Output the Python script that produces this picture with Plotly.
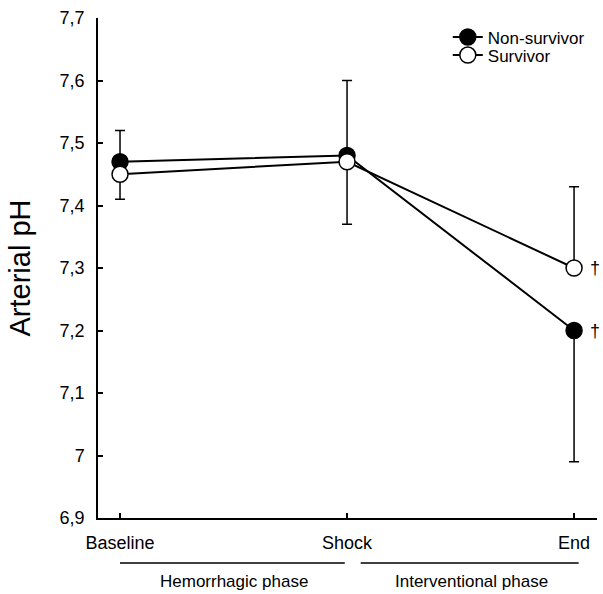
import plotly.graph_objects as go

categories = ["Baseline", "Shock", "End"]
nonsurvivor = [7.47, 7.48, 7.20]
survivor = [7.45, 7.47, 7.30]
nonsurv_err_plus = [0.05, 0.12, 0.0]
nonsurv_err_minus = [0.0, 0.0, 0.21]
surv_err_plus = [0.0, 0.0, 0.13]
surv_err_minus = [0.04, 0.10, 0.0]
ytick_vals = [6.9, 7.0, 7.1, 7.2, 7.3, 7.4, 7.5, 7.6, 7.7]
ytick_text = ["6,9", "7", "7,1", "7,2", "7,3", "7,4", "7,5", "7,6", "7,7"]
phase_labels = ["Hemorrhagic phase", "Interventional phase"]
dagger_points = ["End", "End"]
dagger_values = [7.30, 7.20]

FONT = "Liberation Sans, Arial, Helvetica, sans-serif"

fig = go.Figure()

# error bars (behind markers)
fig.add_trace(go.Scatter(
    x=categories, y=nonsurvivor, mode="markers",
    marker=dict(size=1, opacity=0),
    error_y=dict(type="data", symmetric=False, array=nonsurv_err_plus,
                 arrayminus=nonsurv_err_minus, color="black", thickness=1.5, width=5),
    showlegend=False, hoverinfo="skip"))
fig.add_trace(go.Scatter(
    x=categories, y=survivor, mode="markers",
    marker=dict(size=1, opacity=0),
    error_y=dict(type="data", symmetric=False, array=surv_err_plus,
                 arrayminus=surv_err_minus, color="black", thickness=1.5, width=5),
    showlegend=False, hoverinfo="skip"))

fig.add_trace(go.Scatter(
    x=categories, y=nonsurvivor, mode="lines+markers", name="Non-survivor",
    line=dict(color="black", width=2), legend="legend",
    marker=dict(size=16, color="black", line=dict(color="black", width=1.5))))
fig.add_trace(go.Scatter(
    x=categories, y=survivor, mode="lines+markers", name="Survivor",
    line=dict(color="black", width=2), legend="legend2",
    marker=dict(size=16, color="white", line=dict(color="black", width=1.5))))

for xc, yv in zip(dagger_points, dagger_values):
    fig.add_annotation(x=xc, y=yv, xref="x", yref="y", text="†", showarrow=False,
                       xshift=21, font=dict(family=FONT, size=18, color="#000000"))

# phase lines and labels
fig.add_shape(type="line", xref="x", yref="paper", x0=0.0, x1=0.99, y0=-0.09, y1=-0.09,
              line=dict(color="black", width=1.5))
fig.add_shape(type="line", xref="x", yref="paper", x0=1.06, x1=2.02, y0=-0.09, y1=-0.09,
              line=dict(color="black", width=1.5))
fig.add_annotation(x=0.5, y=-0.15, xref="x", yref="paper", text=phase_labels[0],
                   showarrow=False, font=dict(family=FONT, size=17, color="black"))
fig.add_annotation(x=1.55, y=-0.15, xref="x", yref="paper", text=phase_labels[1],
                   showarrow=False, font=dict(family=FONT, size=17, color="black"))

leg_common = dict(xanchor="left", yanchor="middle",
                  font=dict(family=FONT, size=17, color="black"),
                  bgcolor="rgba(0,0,0,0)", borderwidth=0)

fig.update_layout(
    width=603, height=594,
    margin=dict(l=98, r=6, t=18, b=76),
    plot_bgcolor="white", paper_bgcolor="white",
    font=dict(family=FONT, color="black", size=18),
    showlegend=True,
    legend=dict(x=0.701, y=0.961, **leg_common),
    legend2=dict(x=0.701, y=0.925, **leg_common),
    xaxis=dict(type="category", range=[-0.097, 2.101], showline=True, linecolor="black",
               linewidth=1.5, ticks="inside", ticklen=5, tickwidth=1.5, tickcolor="black",
               showgrid=False, zeroline=False, tickfont=dict(size=18),
               ticklabelstandoff=8),
    yaxis=dict(range=[6.9, 7.7], tickvals=ytick_vals, ticktext=ytick_text,
               showline=True, linecolor="black", linewidth=1.5, ticks="inside",
               ticklen=5, tickwidth=1.5, tickcolor="black", showgrid=False,
               zeroline=False, tickfont=dict(size=18), ticklabelstandoff=8,
               title=dict(text="Arterial pH", font=dict(size=29), standoff=20)),
)

fig.write_html("out.html", config={"displayModeBar": False},
               post_script="document.body.style.margin='0px';document.body.style.overflow='hidden';")
